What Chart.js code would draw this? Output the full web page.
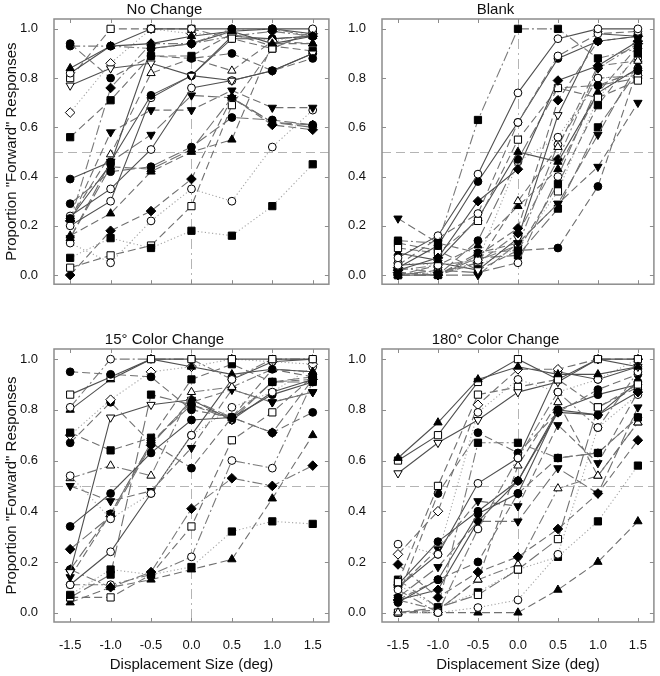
<!DOCTYPE html>
<html><head><meta charset="utf-8">
<script src="https://cdn.jsdelivr.net/npm/chart.js@4"></script>
<style>
html,body{margin:0;padding:0;background:#fff}
#wrap{position:relative;width:660px;height:676px;overflow:hidden}
canvas{position:absolute}
</style></head>
<body><div id="wrap">
<canvas id="c0" width="335" height="300" style="left:0;top:0"></canvas>
<canvas id="c1" width="325" height="300" style="left:335px;top:0"></canvas>
<canvas id="c2" width="335" height="346" style="left:0;top:330px"></canvas>
<canvas id="c3" width="325" height="346" style="left:335px;top:330px"></canvas>
</div>
<script>
// ---- data ----
const displacements = [-1.5, -1.0, -0.5, 0.0, 0.5, 1.0, 1.5];
const yTickValues = [0, 0.2, 0.4, 0.6, 0.8, 1.0];
const panelTitles = ['No Change', 'Blank', '15\u00B0 Color Change', '180\u00B0 Color Change'];
const xAxisTitle = 'Displacement Size (deg)';
const yAxisTitle = 'Proportion "Forward" Responses';
const refX = 0.0, refY = 0.5;

const noChangeValues = [
  [0.84, 0.93, 0.94, 0.97, 0.99, 0.94, 0.97],
  [0.94, 0.80, 0.89, 0.88, 0.90, 0.83, 0.88],
  [0.93, 0.93, 0.92, 0.94, 1.00, 1.00, 0.97],
  [0.82, 0.93, 1.00, 1.00, 1.00, 1.00, 1.00],
  [0.80, 1.00, 1.00, 1.00, 0.96, 0.92, 0.99],
  [0.77, 0.84, 0.86, 0.81, 0.79, 0.83, 0.90],
  [0.66, 0.86, 1.00, 0.98, 0.98, 0.95, 0.98],
  [0.56, 0.71, 0.89, 0.89, 0.98, 0.93, 0.91],
  [0.39, 0.46, 0.73, 0.81, 0.97, 0.96, 0.97],
  [0.29, 0.42, 0.44, 0.52, 0.64, 0.63, 0.61],
  [0.23, 0.45, 0.92, 0.94, 0.99, 1.00, 0.98],
  [0.24, 0.35, 0.51, 0.76, 0.79, 0.83, 0.90],
  [0.20, 0.30, 0.72, 0.81, 0.96, 0.96, 0.97],
  [0.22, 0.58, 0.67, 0.67, 0.75, 0.68, 0.68],
  [0.16, 0.25, 0.42, 0.50, 0.55, 0.94, 0.94],
  [0.15, 0.44, 0.43, 0.51, 0.72, 0.62, 0.61],
  [0.13, 0.05, 0.22, 0.35, 0.30, 0.52, 0.67],
  [0.07, 0.15, 0.11, 0.18, 0.16, 0.28, 0.45],
  [0.03, 0.08, 0.12, 0.28, 0.69, 0.92, 0.99],
  [0.00, 0.18, 0.26, 0.39, 0.72, 0.61, 0.59],
  [0.23, 0.49, 0.82, 0.88, 0.83, 0.95, 0.94],
  [0.22, 0.76, 0.94, 0.94, 0.97, 0.99, 0.97],
  [0.15, 0.46, 0.57, 0.73, 0.72, 0.62, 0.60]
];
const blankValues = [
  [0.14, 0.13, 0.63, 1.00, 1.00, 0.88, 0.92],
  [0.23, 0.13, 0.09, 0.13, 0.29, 0.44, 0.70],
  [0.07, 0.16, 0.41, 0.74, 0.96, 1.00, 1.00],
  [0.04, 0.15, 0.25, 0.62, 0.89, 0.98, 0.99],
  [0.03, 0.12, 0.38, 0.62, 0.88, 0.95, 0.97],
  [0.02, 0.07, 0.30, 0.43, 0.79, 0.85, 0.95],
  [0.11, 0.09, 0.22, 0.55, 0.76, 0.72, 0.79],
  [0.09, 0.06, 0.23, 0.50, 0.46, 0.74, 0.84],
  [0.00, 0.00, 0.14, 0.47, 0.76, 0.77, 0.83],
  [0.05, 0.04, 0.06, 0.46, 0.56, 0.80, 0.81],
  [0.01, 0.00, 0.05, 0.30, 0.52, 0.85, 0.87],
  [0.00, 0.04, 0.12, 0.28, 0.43, 0.74, 0.93],
  [0.01, 0.00, 0.08, 0.19, 0.71, 0.95, 0.97],
  [0.03, 0.01, 0.05, 0.17, 0.47, 0.84, 0.94],
  [0.04, 0.05, 0.02, 0.15, 0.65, 0.98, 0.97],
  [0.13, 0.10, 0.02, 0.10, 0.37, 0.69, 0.90],
  [0.00, 0.01, 0.04, 0.11, 0.34, 0.72, 0.89],
  [0.00, 0.00, 0.00, 0.13, 0.29, 0.57, 0.86],
  [0.00, 0.00, 0.09, 0.10, 0.11, 0.36, 0.84],
  [0.00, 0.02, 0.01, 0.05, 0.40, 0.77, 0.80],
  [0.00, 0.00, 0.07, 0.08, 0.27, 0.60, 0.83],
  [0.02, 0.04, 0.06, 0.12, 0.53, 0.80, 0.81]
];
const color15Values = [
  [0.95, 0.94, 0.93, 0.80, 0.77, 0.71, 0.79],
  [0.86, 0.93, 1.00, 1.00, 1.00, 1.00, 1.00],
  [0.81, 1.00, 1.00, 1.00, 0.92, 1.00, 1.00],
  [0.80, 0.92, 1.00, 0.97, 0.94, 0.96, 0.95],
  [0.71, 0.64, 0.69, 0.92, 0.98, 0.91, 0.92],
  [0.70, 0.84, 0.95, 0.97, 1.00, 0.99, 0.98],
  [0.67, 0.83, 0.67, 0.57, 0.77, 0.96, 0.93],
  [0.54, 0.37, 0.47, 0.70, 0.81, 0.87, 0.97],
  [0.53, 0.58, 0.54, 0.87, 0.89, 0.96, 0.95],
  [0.50, 0.44, 0.48, 0.65, 0.88, 0.83, 0.87],
  [0.34, 0.47, 0.63, 0.76, 0.77, 0.86, 0.91],
  [0.25, 0.38, 0.66, 0.84, 0.77, 0.71, 0.92],
  [0.16, 0.77, 0.82, 0.84, 0.76, 0.87, 0.92],
  [0.17, 0.39, 0.67, 0.82, 0.76, 0.91, 0.93],
  [0.14, 0.39, 0.67, 0.83, 0.88, 0.83, 0.87],
  [0.11, 0.24, 0.47, 0.70, 0.92, 0.99, 1.00],
  [0.17, 0.10, 0.16, 0.41, 0.53, 0.50, 0.58],
  [0.07, 0.17, 0.15, 0.18, 0.32, 0.36, 0.35],
  [0.06, 0.06, 0.15, 0.34, 0.68, 0.79, 0.93],
  [0.04, 0.10, 0.13, 0.17, 0.21, 0.45, 0.70],
  [0.11, 0.11, 0.15, 0.22, 0.60, 0.57, 0.91],
  [0.06, 0.15, 0.86, 0.82, 0.77, 0.91, 0.91]
];
const color180Values = [
  [0.61, 0.75, 0.92, 0.97, 0.94, 0.94, 0.97],
  [0.60, 0.70, 0.91, 1.00, 0.92, 1.00, 1.00],
  [0.55, 0.67, 0.76, 0.87, 0.91, 1.00, 0.97],
  [0.27, 0.23, 0.79, 0.92, 0.87, 0.92, 1.00],
  [0.23, 0.40, 0.82, 0.96, 0.96, 1.00, 1.00],
  [0.19, 0.06, 0.16, 0.22, 0.33, 0.47, 0.68],
  [0.09, 0.00, 0.33, 0.61, 0.87, 0.73, 0.95],
  [0.12, 0.50, 0.86, 0.89, 0.92, 0.81, 0.90],
  [0.13, 0.02, 0.67, 0.67, 0.61, 0.63, 0.77],
  [0.11, 0.28, 0.40, 0.52, 0.80, 0.78, 0.91],
  [0.06, 0.47, 0.71, 0.63, 0.79, 0.88, 0.94],
  [0.04, 0.13, 0.39, 0.47, 0.80, 0.86, 0.90],
  [0.05, 0.09, 0.36, 0.52, 0.79, 0.78, 0.87],
  [0.10, 0.25, 0.44, 0.42, 0.74, 0.59, 0.87],
  [0.10, 0.23, 0.51, 0.61, 0.95, 0.92, 0.97],
  [0.06, 0.18, 0.36, 0.36, 0.57, 0.47, 0.81],
  [0.00, 0.01, 0.13, 0.58, 0.83, 0.54, 0.75],
  [0.05, 0.13, 0.20, 0.47, 0.61, 0.63, 0.77],
  [0.00, 0.02, 0.07, 0.17, 0.29, 0.81, 0.89],
  [0.00, 0.00, 0.02, 0.05, 0.23, 0.73, 0.86],
  [0.00, 0.00, 0.00, 0.00, 0.09, 0.20, 0.36],
  [0.11, 0.02, 0.08, 0.17, 0.22, 0.36, 0.58],
  [0.05, 0.01, 0.13, 0.19, 0.49, 0.54, 0.75]
];

// ---- styles (marker: shape+fill, line: dash kind) ----
const noChangeMarks = ['tf','cf','cf','co','so','vo','do','sf','cf','cf','cf','co','co','vf','tf','tf','co','sf','so','df','to','df','vf'];
const noChangeLines = ['s','d','dd','s','d','s','p','d','s','l','s','s','s','d','d','l','p','p','d','d','d','dd','l'];
const blankMarks = ['sf','vf','co','co','cf','df','so','tf','cf','co','to','tf','df','df','vo','sf','so','vf','cf','co','sf','co'];
const blankLines = ['dd','d','s','d','s','s','d','s','l','p','d','d','d','dd','s','d','p','l','d','l','l','dd'];
const color15Marks = ['cf','so','co','tf','sf','do','cf','co','to','vf','cf','df','vo','cf','vf','co','df','sf','so','tf','co','sf'];
const color15Lines = ['d','s','dd','s','d','p','d','p','dd','d','s','l','s','l','d','s','dd','p','d','d','dd','l'];
const color180Marks = ['tf','so','vo','co','do','df','co','so','sf','cf','cf','cf','df','vf','co','vf','to','cf','so','co','tf','sf','to'];
const color180Lines = ['s','s','s','p','d','d','dd','d','dd','s','d','s','s','d','s','l','d','d','l','p','d','p','dd'];

const FONT = '"Liberation Sans", Arial, Helvetica, sans-serif';
const dashMap = { s: [], d: [8, 4], l: [12, 4], dd: [10, 3, 2, 3], p: [1.2, 2.4] };
const colorMap = { s: '#4f4f4f', d: '#707070', l: '#707070', dd: '#7a7a7a', p: '#a4a4a4' };
const shapeMap = { c: 'circle', s: 'rect', t: 'triangle', v: 'triangle', d: 'rectRot' };
const radiusMap = { c: 3.9, s: 5.1, t: 4.8, v: 4.8, d: 4.8 };

const framePlugin = {
  id: 'frame',
  beforeDatasetsDraw(chart) {
    const { ctx, chartArea: a, scales: { x, y } } = chart;
    ctx.save();
    ctx.strokeStyle = '#b4b4b4';
    ctx.lineWidth = 1;
    const px = Math.round(x.getPixelForValue(refX)) + 0.5;
    ctx.setLineDash([10, 4, 2, 4]);
    ctx.beginPath(); ctx.moveTo(px, a.top); ctx.lineTo(px, a.bottom); ctx.stroke();
    const py = Math.round(y.getPixelForValue(refY)) + 0.5;
    ctx.setLineDash([9, 5]);
    ctx.beginPath(); ctx.moveTo(a.left, py); ctx.lineTo(a.right, py); ctx.stroke();
    ctx.restore();
  },
  afterDraw(chart) {
    const { ctx, chartArea: a, scales: { x, y } } = chart;
    ctx.save();
    ctx.setLineDash([]);
    ctx.strokeStyle = '#8c8c8c';
    ctx.lineWidth = 1.5;
    ctx.strokeRect(a.left, a.top, a.right - a.left, a.bottom - a.top);
    ctx.lineWidth = 1;
    ctx.beginPath();
    displacements.forEach(v => {
      const p = Math.round(x.getPixelForValue(v)) + 0.5;
      ctx.moveTo(p, a.bottom); ctx.lineTo(p, a.bottom - 4);
      ctx.moveTo(p, a.top); ctx.lineTo(p, a.top + 4);
    });
    yTickValues.forEach(v => {
      const p = Math.round(y.getPixelForValue(v)) + 0.5;
      ctx.moveTo(a.left, p); ctx.lineTo(a.left + 4, p);
      ctx.moveTo(a.right, p); ctx.lineTo(a.right - 4, p);
    });
    ctx.stroke();
    ctx.restore();
  }
};

function panel(id, title, values, marks, lines, o) {
  const datasets = values.map((vals, i) => {
    const shape = marks[i][0], filled = marks[i][1] === 'f', ln = lines[i];
    return {
      data: displacements.map((xv, j) => ({ x: xv, y: vals[j] })),
      showLine: true,
      borderColor: colorMap[ln],
      borderWidth: 1.1,
      borderDash: dashMap[ln],
      pointStyle: shapeMap[shape],
      pointRotation: shape === 'v' ? 180 : 0,
      pointRadius: radiusMap[shape],
      pointBackgroundColor: filled ? '#000' : '#fff',
      pointBorderColor: '#000',
      pointBorderWidth: 1,
      fill: false,
      tension: 0,
      clip: false
    };
  });
  new Chart(document.getElementById(id), {
    type: 'scatter',
    data: { datasets },
    plugins: [framePlugin],
    options: {
      responsive: false,
      animation: false,
      devicePixelRatio: 1,
      events: [],
      layout: { padding: { left: 0, right: o.padRight, top: 0, bottom: 0 } },
      plugins: {
        legend: { display: false },
        tooltip: { enabled: false },
        title: { display: true, text: title, font: { family: FONT, size: 15, weight: 'normal' }, color: '#111', padding: { top: 1, bottom: 0 } }
      },
      scales: {
        x: {
          type: 'linear', min: -1.7, max: 1.7,
          grid: { display: false }, border: { display: false },
          afterBuildTicks: s => { s.ticks = displacements.map(v => ({ value: v })); },
          afterFit: s => { s.height = o.xHeight; },
          ticks: { display: o.showX, autoSkip: false, maxRotation: 0, padding: 8, font: { family: FONT, size: 13 }, color: '#111', callback: v => Number(v).toFixed(1) },
          title: { display: o.showX, text: xAxisTitle, font: { family: FONT, size: 15 }, color: '#111', padding: { top: 0, bottom: 2 } }
        },
        y: {
          type: 'linear', min: -0.037, max: 1.04,
          grid: { display: false }, border: { display: false },
          afterBuildTicks: s => { s.ticks = yTickValues.map(v => ({ value: v })); },
          afterFit: s => { s.width = o.yWidth; },
          ticks: { autoSkip: false, padding: 8, font: { family: FONT, size: 13 }, color: '#111', callback: v => Number(v).toFixed(1) },
          title: { display: o.showYTitle, text: yAxisTitle, font: { family: FONT, size: 15 }, color: '#111', padding: { top: 3, bottom: 0 } }
        }
      }
    }
  });
}

panel('c0', panelTitles[0], noChangeValues, noChangeMarks, noChangeLines, { padRight: 6, xHeight: 8, showX: false, yWidth: 54, showYTitle: true });
panel('c1', panelTitles[1], blankValues, blankMarks, blankLines, { padRight: 4, xHeight: 8, showX: false, yWidth: 47, showYTitle: false });
panel('c2', panelTitles[2], color15Values, color15Marks, color15Lines, { padRight: 6, xHeight: 54, showX: true, yWidth: 54, showYTitle: true });
panel('c3', panelTitles[3], color180Values, color180Marks, color180Lines, { padRight: 4, xHeight: 54, showX: true, yWidth: 47, showYTitle: false });
</script>
</body></html>
